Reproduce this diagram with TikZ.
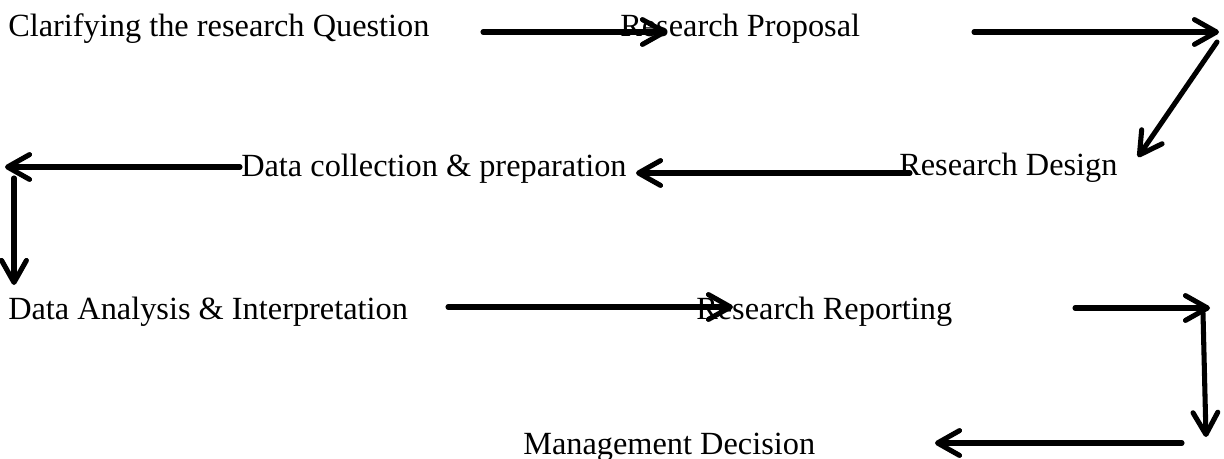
\documentclass[tikz,border=0pt]{standalone}
\usepackage{fontspec}
\setmainfont{Liberation Serif}
\usepackage{tikz}
\usetikzlibrary{arrows.meta,positioning}
\tikzstyle{stage} = [inner sep=0pt, anchor=base west, font=\fontsize{23}{28}\selectfont]
\tikzstyle{flow} = [-{Straight Barb[length=0.55cm,width=0.62cm,round]}, line width=3.6pt,
    line cap=round, black]

\begin{document}
\begin{tikzpicture}[x=0.025cm, y=-0.025cm]
  \useasboundingbox (0,0) rectangle (1224,459);
  % Place nodes
  \node [stage] (question) at (8,37) {Clarifying the research Question};
  \node [stage] (proposal) at (620,37) {Research Proposal};
  \node [stage] (design) at (899,176) {Research Design};
  \node [stage] (collect) at (241,177) {Data collection \& preparation};
  \node [stage] (analysis) at (8,319) {Data Analysis \& Interpretation};
  \node [stage] (report) at (696,319) {Research Reporting};
  \node [stage] (decision) at (523,454) {Management Decision};
  % arrow ends
  \coordinate (q1) at (483,32);   \coordinate (q2) at (667,32);
  \coordinate (p1) at (974,32);   \coordinate (p2) at (1219,32);
  \coordinate (p3) at (1217,42);  \coordinate (p4) at (1138,157);
  \coordinate (d1) at (910,173);  \coordinate (d2) at (636,173);
  \coordinate (c1) at (240,167);  \coordinate (c2) at (5,167);
  \coordinate (c3) at (14,178);   \coordinate (c4) at (14,285);
  \coordinate (a1) at (448,307);  \coordinate (a2) at (733,307);
  \coordinate (r1) at (1075,308); \coordinate (r2) at (1210,308);
  \coordinate (r3) at (1203,313); \coordinate (r4) at (1206,437);
  \coordinate (m1) at (1182,443); \coordinate (m2) at (935,443);
  % Draw arrows
  \draw[flow] (q1) -- (q2);
  \draw[flow] (p1) -- (p2);
  \draw[flow] (p3) -- (p4);
  \draw[flow] (d1) -- (d2);
  \draw[flow] (c1) -- (c2);
  \draw[flow] (c3) -- (c4);
  \draw[flow] (a1) -- (a2);
  \draw[flow] (r1) -- (r2);
  \draw[flow] (r3) -- (r4);
  \draw[flow] (m1) -- (m2);
\end{tikzpicture}
\end{document}
